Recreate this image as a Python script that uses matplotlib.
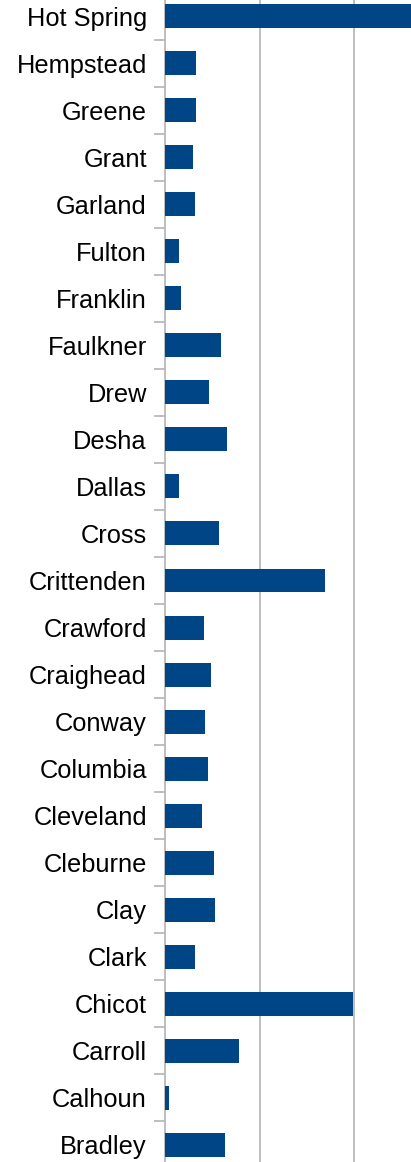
import matplotlib
matplotlib.use('Agg')
import matplotlib.pyplot as plt
import numpy as np

# counties, bottom to top as drawn
counties = ['Bradley', 'Calhoun', 'Carroll', 'Chicot', 'Clark', 'Clay', 'Cleburne',
            'Cleveland', 'Columbia', 'Conway', 'Craighead', 'Crawford', 'Crittenden',
            'Cross', 'Dallas', 'Desha', 'Drew', 'Faulkner', 'Franklin', 'Fulton',
            'Garland', 'Grant', 'Greene', 'Hempstead', 'Hot Spring']
values = [6.3, 0.4, 7.8, 19.9, 3.2, 5.3, 5.2,
          3.9, 4.5, 4.2, 4.9, 4.1, 16.9,
          5.7, 1.5, 6.6, 4.7, 5.9, 1.7, 1.5,
          3.2, 3.0, 3.3, 3.3, 30.0]
grid_values = [10, 20]

W, H = 411, 1162
fig = plt.figure(figsize=(W / 100, H / 100), dpi=100)

# plot area runs past the right/bottom/top edges of the picture
left, right = 165, 165 + 30 * 9.45
top, bottom = -7.5, 1168.5
ax = fig.add_axes([left / W, (H - bottom) / H, (right - left) / W, (bottom - top) / H])

y = np.arange(len(counties))
ax.barh(y, values, height=0.51, color='#004586', zorder=3)

ax.set_xlim(0, 30)
ax.set_ylim(-0.5, len(counties) - 0.5)

ax.set_xticks(grid_values)
ax.tick_params(axis='x', length=0, labelbottom=False)
ax.grid(axis='x', color='#b3b3b3', linewidth=1.2, zorder=0)

ax.set_yticks(y)
ax.set_yticklabels(counties, fontfamily='Liberation Sans', fontsize=18.3, color='#000000')
ax.set_yticks(np.arange(len(counties) + 1) - 0.5, minor=True)
ax.tick_params(axis='y', which='major', length=0, pad=13)
ax.tick_params(axis='y', which='minor', length=8, width=1.2, color='#b3b3b3')

for side in ['top', 'right', 'bottom']:
    ax.spines[side].set_visible(False)
ax.spines['left'].set_color('#b3b3b3')
ax.spines['left'].set_linewidth(1.2)

fig.savefig('out.png', dpi=100)
